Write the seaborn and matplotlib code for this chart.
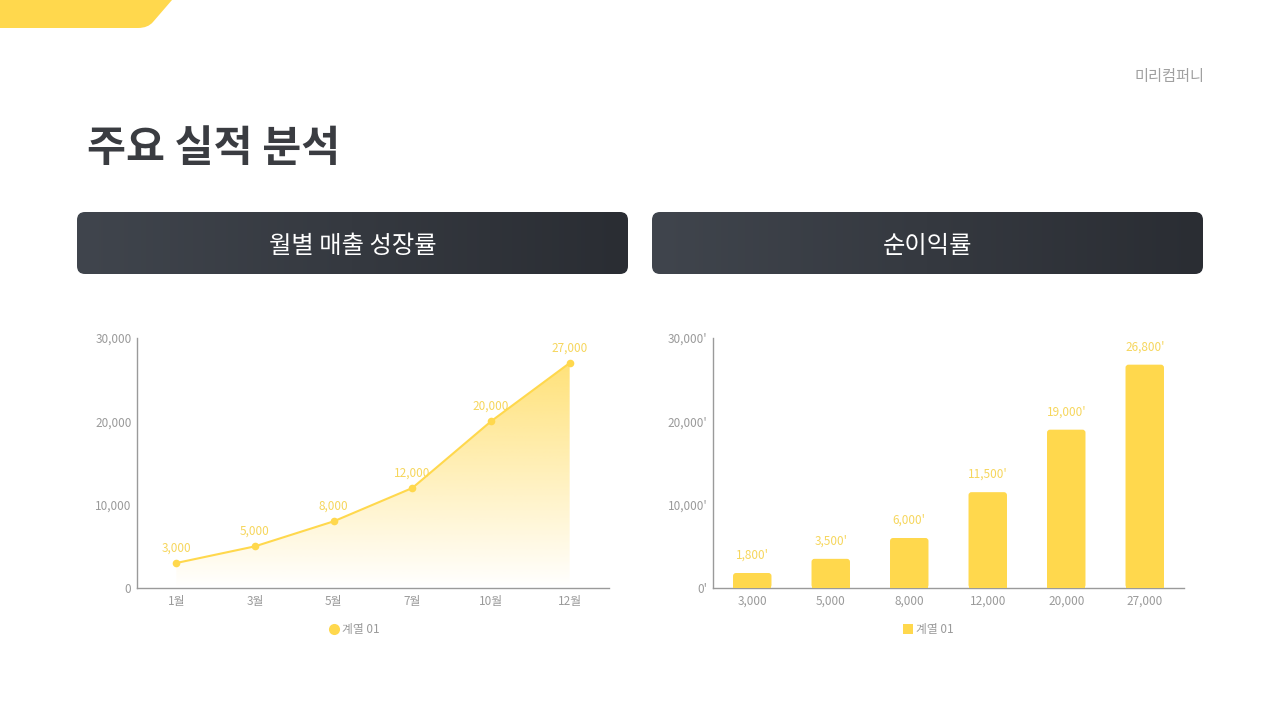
import numpy as np
import matplotlib
matplotlib.use("Agg")
import matplotlib.pyplot as plt
import seaborn as sns
from matplotlib.patches import FancyBboxPatch, PathPatch
from matplotlib.path import Path
from matplotlib.colors import LinearSegmentedColormap, to_rgb
from matplotlib.lines import Line2D

# data
months = ["1월", "3월", "5월", "7월", "10월", "12월"]
sales = [3000, 5000, 8000, 12000, 20000, 27000]
bar_labels = ["3,000", "5,000", "8,000", "12,000", "20,000", "27,000"]
profit = [1800, 3500, 6000, 11500, 19000, 26800]
y_ticks = [0, 10000, 20000, 30000]
series_name = "계열 01"

sns.set_style("white")
plt.rcParams['font.family'] = ['Noto Sans CJK KR', 'DejaVu Sans']

YELLOW = "#FFD84D"
LABEL_YELLOW = "#F6D65C"
GRAY = "#9a9a9a"
AXIS = "#9a9a9a"

fig = plt.figure(figsize=(12.8, 7.2), dpi=100)
fig.patch.set_facecolor("white")

# background axes in pixel units
bg = fig.add_axes([0, 0, 1, 1], zorder=0)
bg.set_xlim(0, 1280)
bg.set_ylim(720, 0)
bg.axis("off")

# yellow corner shape
verts = [(0, 0), (172, 0), (153, 22), (148, 28), (138, 28), (0, 28), (0, 0)]
codes = [Path.MOVETO, Path.LINETO, Path.LINETO, Path.CURVE3, Path.CURVE3,
         Path.LINETO, Path.CLOSEPOLY]
bg.add_patch(PathPatch(Path(verts, codes), facecolor=YELLOW, edgecolor="none"))

bg.text(87, 149, "주요 실적 분석", fontsize=30.5, fontweight="bold",
        color="#3a3c41", va="center", ha="left")
bg.text(1204, 77, "미리컴퍼니", fontsize=11, color="#a0a0a0",
        va="center", ha="right")

# header boxes with horizontal gradient
hdr_cmap = LinearSegmentedColormap.from_list("hdr", ["#40454d", "#2a2d33"])
grad = np.linspace(0, 1, 256).reshape(1, -1)
for x0, title in [(77, "월별 매출 성장률"), (652, "순이익률")]:
    w, h, y0 = 551, 62, 212
    box = FancyBboxPatch((x0, y0), w, h, boxstyle="round,pad=0,rounding_size=8",
                         facecolor="none", edgecolor="none")
    bg.add_patch(box)
    im = bg.imshow(grad, cmap=hdr_cmap, aspect="auto",
                   extent=(x0, x0 + w, y0 + h, y0), zorder=1)
    im.set_clip_path(box)
    bg.text(x0 + w / 2, y0 + h / 2 + 3, title, fontsize=17.5, fontweight="medium",
            color="white", ha="center", va="center", zorder=2)
bg.set_xlim(0, 1280)
bg.set_ylim(720, 0)


def px_axes(left, right, top, bottom):
    return fig.add_axes([left / 1280, (720 - bottom) / 720,
                         (right - left) / 1280, (bottom - top) / 720], zorder=3)


def style_axes(ax, fmt):
    ax.set_facecolor("none")
    ax.set_ylim(0, 30000)
    ax.set_xlim(-0.5, 5.5)
    ax.set_yticks(y_ticks)
    ax.set_yticklabels([fmt(v) for v in y_ticks])
    for s in ["top", "right"]:
        ax.spines[s].set_visible(False)
    for s in ["left", "bottom"]:
        ax.spines[s].set_color(AXIS)
        ax.spines[s].set_linewidth(1)
    ax.tick_params(axis="both", length=0, labelsize=8.5, labelcolor=GRAY)
    ax.tick_params(axis="x", pad=5)
    ax.tick_params(axis="y", pad=4)
    ax.set_xlabel("")
    ax.set_ylabel("")


# left: line chart with gradient area
ax1 = px_axes(137, 609, 338, 588)
xs = np.arange(len(months))
sns.lineplot(x=xs, y=sales, ax=ax1, color=YELLOW, linewidth=1.5,
             marker="o", markersize=5.5, markeredgewidth=0, zorder=4)
fill = ax1.fill_between(xs, sales, 0, facecolor="none", edgecolor="none")
r, g, b = to_rgb(YELLOW)
alpha = np.linspace(0.0, 0.75, 256).reshape(-1, 1)
rgba = np.zeros((256, 1, 4))
rgba[..., 0], rgba[..., 1], rgba[..., 2] = r, g, b
rgba[..., 3] = alpha
gim = ax1.imshow(rgba, aspect="auto", origin="lower",
                 extent=(0, 5, 0, max(sales)), zorder=2)
gim.set_clip_path(fill.get_paths()[0], transform=ax1.transData)
style_axes(ax1, lambda v: f"{v:,}")
ax1.set_xticks(xs)
ax1.set_xticklabels(months)
for x, v in zip(xs, sales):
    ax1.annotate(f"{v:,}", (x, v), xytext=(0, 6), textcoords="offset points",
                 ha="center", va="bottom", fontsize=8.5, color=LABEL_YELLOW)
h1 = Line2D([], [], marker="o", color="none", markerfacecolor=YELLOW,
            markeredgewidth=0, markersize=8)
ax1.legend([h1], [series_name], loc="center", frameon=False,
           bbox_to_anchor=(353 / 1280, (720 - 630) / 720),
           bbox_transform=fig.transFigure, fontsize=8.5, labelcolor=GRAY,
           handletextpad=0.1, handlelength=1.2)

# right: bar chart
ax2 = px_axes(713, 1184, 338, 588)
sns.barplot(x=bar_labels, y=profit, ax=ax2, color=YELLOW, width=0.49,
            saturation=1, zorder=3)
style_axes(ax2, lambda v: f"{v:,}'")
# round the bar tops a little
px_x = 6 / 472          # data units per pixel, x
px_y = 30000 / 250      # data units per pixel, y
for bar in list(ax2.patches):
    bx, by = bar.get_x(), bar.get_y()
    bw, bh = bar.get_width(), bar.get_height()
    bar.remove()
    ax2.add_patch(FancyBboxPatch((bx, by), bw, bh,
                                 boxstyle=f"round,pad=0,rounding_size={3 * px_x}",
                                 mutation_aspect=px_y / px_x,
                                 facecolor=YELLOW, edgecolor="none", zorder=3))
    ax2.add_patch(plt.Rectangle((bx, by), bw, bh * 0.5, facecolor=YELLOW,
                                edgecolor="none", zorder=3))
for x, v in enumerate(profit):
    ax2.annotate(f"{v:,}'", (x, v), xytext=(0, 8), textcoords="offset points",
                 ha="center", va="bottom", fontsize=8.5, color=LABEL_YELLOW)
h2 = Line2D([], [], marker="s", color="none", markerfacecolor=YELLOW,
            markeredgewidth=0, markersize=7)
ax2.legend([h2], [series_name], loc="center", frameon=False,
           bbox_to_anchor=(927 / 1280, (720 - 630) / 720),
           bbox_transform=fig.transFigure, fontsize=8.5, labelcolor=GRAY,
           handletextpad=0.1, handlelength=1.2)

fig.savefig("out.png", dpi=100)
